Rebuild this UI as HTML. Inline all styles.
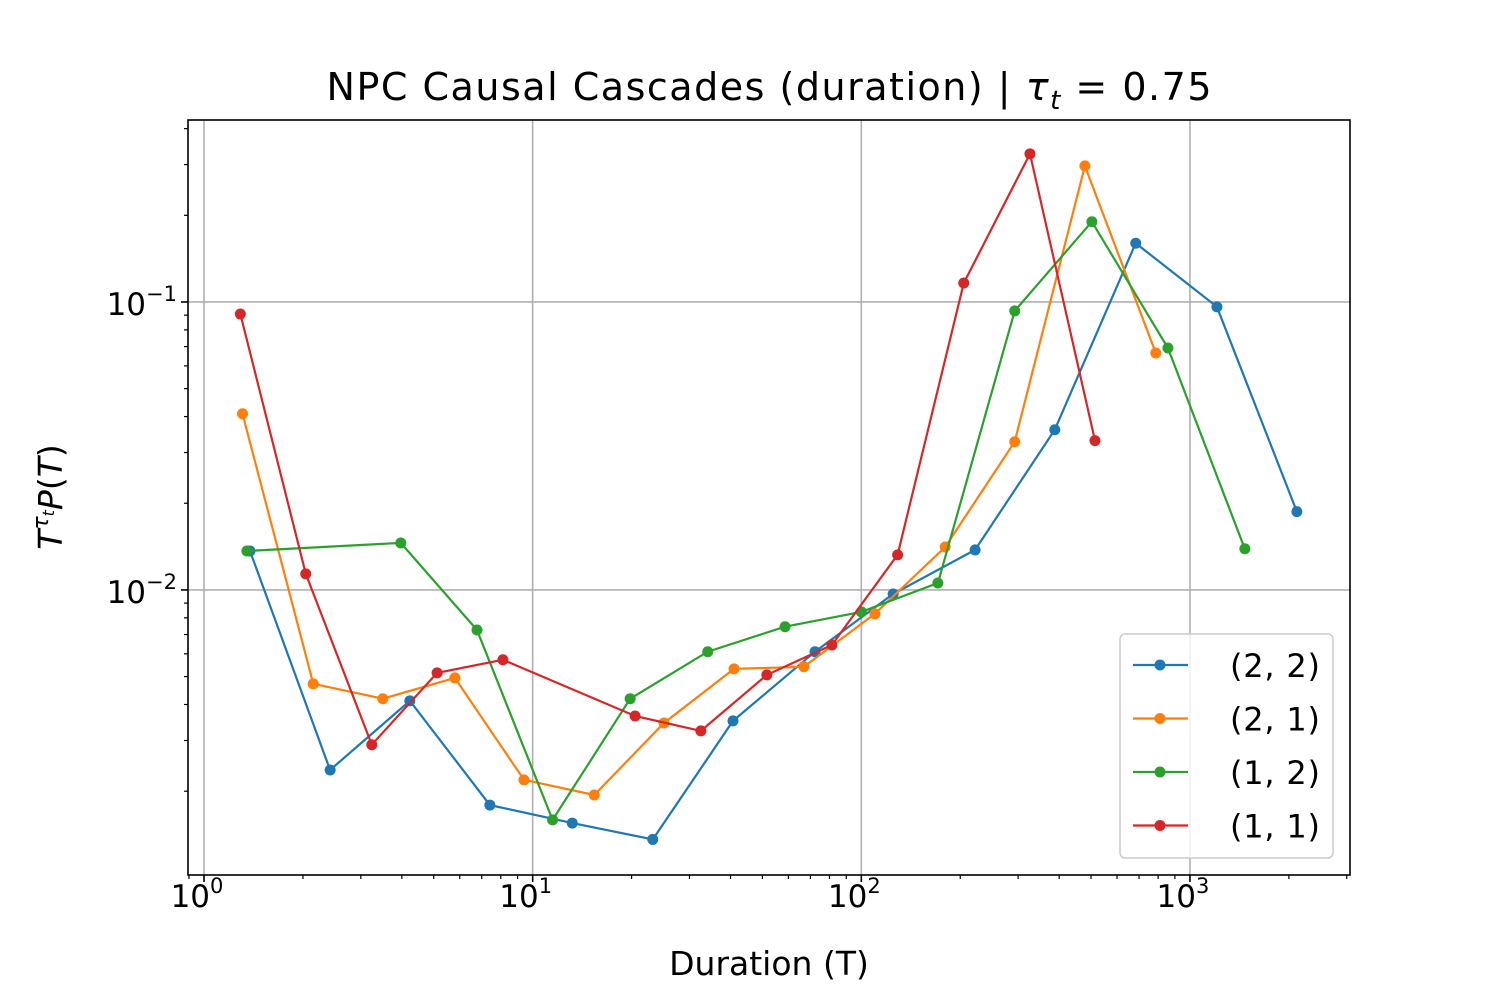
<!DOCTYPE html>
<html><head><meta charset="utf-8"><style>
body{margin:0;background:#fff;}
svg{font-family:"DejaVu Sans","Liberation Sans",sans-serif;}
</style></head><body>
<svg id="chart" width="1500" height="1000" xmlns="http://www.w3.org/2000/svg"></svg>
<script>
const seriesNames = ["(2, 2)", "(2, 1)", "(1, 2)", "(1, 1)"];
const seriesColors = ["#1f77b4", "#ff7f0e", "#2ca02c", "#d62728"];
const x22 = [1.38, 2.42, 4.23, 7.41, 13.2, 23.2, 40.7, 72.3, 125, 222, 388, 684, 1208, 2115];
const y22 = [0.01365, 0.00237, 0.00412, 0.00179, 0.00155, 0.00136, 0.00351, 0.0061, 0.00968, 0.01377, 0.036, 0.16, 0.0962, 0.0187];
const x21 = [1.31, 2.15, 3.5, 5.8, 9.41, 15.4, 25.1, 41.0, 66.9, 110, 180, 293, 479, 787];
const y21 = [0.0409, 0.00472, 0.00419, 0.00495, 0.00219, 0.00194, 0.00345, 0.00532, 0.00541, 0.00826, 0.0141, 0.0327, 0.297, 0.0665];
const x12 = [1.35, 3.97, 6.77, 11.5, 19.8, 34.1, 58.6, 100, 171, 293, 503, 857, 1469];
const y12 = [0.01365, 0.01456, 0.00726, 0.00159, 0.00419, 0.0061, 0.00745, 0.00839, 0.01057, 0.0931, 0.19, 0.0692, 0.0139];
const x11 = [1.29, 2.04, 3.24, 5.12, 8.12, 20.5, 32.5, 51.6, 81.4, 129, 205, 326, 514];
const y11 = [0.0908, 0.01137, 0.0029, 0.00515, 0.00572, 0.00365, 0.00324, 0.00507, 0.00644, 0.01324, 0.1164, 0.327, 0.033];
const xTickExps = [0, 1, 2, 3];
const yTickExps = [-2, -1];

const NS = "http://www.w3.org/2000/svg";
const svg = document.getElementById("chart");
const L = 188, R = 1350, T = 120, B = 875;
const xMin = -0.0487, xMax = 3.487, yMin = -2.990, yMax = -0.368;
function sx(v){ return L + (Math.log10(v) - xMin) / (xMax - xMin) * (R - L); }
function sy(v){ return B - (Math.log10(v) - yMin) / (yMax - yMin) * (B - T); }
function mk(tag, attrs, parent){
  const e = document.createElementNS(NS, tag);
  for (const k in attrs) e.setAttribute(k, attrs[k]);
  (parent || svg).appendChild(e);
  return e;
}
const grid = mk("g", {});


xTickExps.forEach(e => { const x = sx(Math.pow(10, e)); mk("line", {x1:x, x2:x, y1:T, y2:B, stroke:"#b0b0b0", "stroke-width":1.6}, grid); });
yTickExps.forEach(e => { const y = sy(Math.pow(10, e)); mk("line", {x1:L, x2:R, y1:y, y2:y, stroke:"#b0b0b0", "stroke-width":1.6}, grid); });
const ticks = mk("g", {});


for (let e = -1; e <= 3; e++) for (let m = 1; m <= 9; m++) {
  const v = m * Math.pow(10, e); const x = sx(v);
  if (x < L || x > R) continue;
  mk("line", {x1:x, x2:x, y1:B, y2:B + (m === 1 ? 7 : 4), stroke:"#000", "stroke-width": m === 1 ? 1.6 : 1.2}, ticks);
}
for (let e = -3; e <= 0; e++) for (let m = 1; m <= 9; m++) {
  const v = m * Math.pow(10, e); const y = sy(v);
  if (y < T || y > B) continue;
  mk("line", {x1:L, x2:L - (m === 1 ? 7 : 4), y1:y, y2:y, stroke:"#000", "stroke-width": m === 1 ? 1.6 : 1.2}, ticks);
}
xTickExps.forEach(e => {
  const t = mk("text", {x: sx(Math.pow(10, e)) - 7, y: 907, "font-size": 31, "text-anchor": "middle"}, ticks);
  
  
  t.innerHTML = '10<tspan dy="-14" font-size="21">' + e + '</tspan>';
});
yTickExps.forEach(e => {
  const t = mk("text", {x: 177, y: sy(Math.pow(10, e)) + 13, "font-size": 31, "text-anchor": "end"}, ticks);
  
  
  t.innerHTML = '10<tspan dy="-14" font-size="21">\u2212' + (-e) + '</tspan>';
});
const xs = [x22, x21, x12, x11], ys = [y22, y21, y12, y11];
xs.forEach((xa, i) => {
  const g = mk("g", {});
  
  
  const pts = xa.map((x, j) => sx(x).toFixed(1) + "," + sy(ys[i][j]).toFixed(1)).join(" ");
  mk("polyline", {points: pts, fill: "none", stroke: seriesColors[i], "stroke-width": 2.2}, g);
  xa.forEach((x, j) => {
    const c = mk("circle", {cx: sx(x), cy: sy(ys[i][j]), r: 5.5, fill: seriesColors[i]}, g);
    
    
  });
});
const frame = mk("rect", {x:L, y:T, width:R-L, height:B-T, fill:"none", stroke:"#000", "stroke-width":1.6});


const lg = mk("g", {});


mk("rect", {x:1120, y:634, width:213, height:224, rx:5, fill:"#fff", "fill-opacity":0.8, stroke:"#ccc", "stroke-width":1.5}, lg);
seriesNames.forEach((n, i) => {
  const y = 665 + i * 53.5;
  const e = mk("g", {}, lg);
  
  
  mk("line", {x1:1133, x2:1188, y1:y, y2:y, stroke:seriesColors[i], "stroke-width":2.2}, e);
  mk("circle", {cx:1160, cy:y, r:5.5, fill:seriesColors[i]}, e);
  const t = mk("text", {x:1230, y:y + 12, "font-size":32, textLength:90}, e);
  t.textContent = n;
});
const title = mk("text", {x:769, y:100, "font-size":38, "text-anchor":"middle", textLength:885}, svg);


title.innerHTML = 'NPC Causal Cascades (duration) | <tspan font-style="italic">τ</tspan><tspan font-style="italic" font-size="26" dy="9">t</tspan><tspan dy="-9"> = 0.75</tspan>';
const xl = mk("text", {x:769, y:975, "font-size":33, "text-anchor":"middle"});


xl.textContent = "Duration (T)";
const yl = mk("text", {x:0, y:0, "font-size":33, "text-anchor":"middle", transform:"translate(62,497) rotate(-90)"});


yl.innerHTML = '<tspan font-style="italic">T</tspan><tspan font-style="italic" font-size="22" dy="-14">τ</tspan><tspan font-style="italic" font-size="16" dy="6">t</tspan><tspan font-style="italic" dy="8">P</tspan>(<tspan font-style="italic">T</tspan>)';
</script>
</body></html>
